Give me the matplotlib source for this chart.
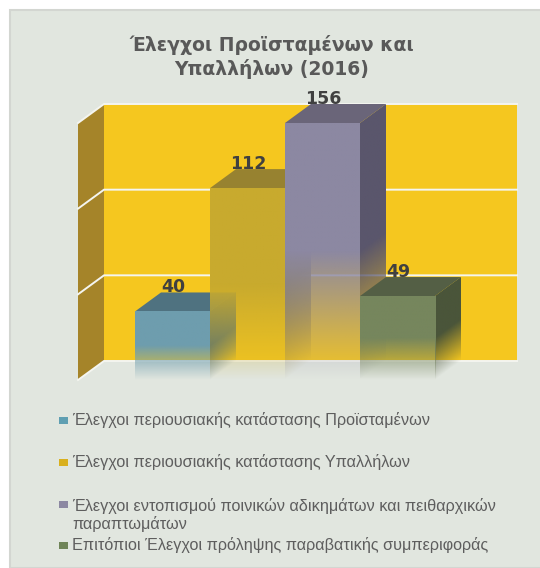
import numpy as np
import matplotlib
matplotlib.use("Agg")
import matplotlib.pyplot as plt
from matplotlib.patches import Rectangle
from matplotlib.transforms import Affine2D

title = "Έλεγχοι Προϊσταμένων και\nΥπαλλήλων (2016)"
values = [40, 112, 156, 49]
grid_ticks = [0, 50, 100, 150]
front_colors = ["#6E9DAE", "#C8AA2E", "#8C88A2", "#76865D"]
side_colors = ["#4B6C7A", "#8F7A26", "#5A566C", "#4A553A"]
top_colors = ["#4F7280", "#978230", "#6A6579", "#545F45"]
swatch_colors = ["#5F9FB2", "#D9B01E", "#8C88A2", "#6F8458"]
legend_rows = [
    ("Έλεγχοι περιουσιακής κατάστασης Προϊσταμένων", 420),
    ("Έλεγχοι περιουσιακής κατάστασης Υπαλλήλων", 462),
    ("Έλεγχοι εντοπισμού ποινικών αδικημάτων και πειθαρχικών\nπαραπτωμάτων", 515),
    ("Επιτόπιοι Έλεγχοι πρόληψης παραβατικής συμπεριφοράς", 545),
]

W, H = 540, 568
PANEL = "#E1E6DF"
WALL = "#F5C71F"
SIDE_WALL = "#A58429"

# pixels per data unit, depth of the fake 3d
px_x = 75.0
px_y = 257 / 150
depth_x = 26 / px_x
depth_y = 19 / px_y
ymax = grid_ticks[-1]


def fade_face(ax, x0, x1, h, skew_y, color, zorder):
    # face that is solid in its upper half and fades out to the floor
    rows = np.linspace(0, 1, 200)
    C = np.zeros((len(rows), 2, 4))
    C[:, :, :3] = matplotlib.colors.to_rgb(color)
    C[:, :, 3] = np.clip(rows * 2, 0, 1)[:, None]
    slope = skew_y / (x1 - x0)
    shear = Affine2D(np.array([[1, 0, 0], [slope, 1, -slope * x0], [0, 0, 1]]))
    ax.imshow(C, extent=(x0, x1, 0, h), origin="lower", aspect="auto", zorder=zorder,
              interpolation="bilinear", transform=shear + ax.transData)


fig = plt.figure(figsize=(W / 100, H / 100), dpi=100, facecolor="white")
fig.add_artist(Rectangle((10 / W, 0), 1, 1 - 10 / H, transform=fig.transFigure,
                         facecolor=PANEL, edgecolor="#D3D6D1", linewidth=1.5, zorder=-5))

ax = fig.add_axes([78 / W, (H - 380) / H, (517 - 78) / W, (380 - 104) / H])
ax.patch.set_visible(False)
ax.axis("off")

x_left = 1.5 - 207 / px_x
x_right = 1.5 + 206 / px_x

# walls
ax.fill([x_left + depth_x, x_right + depth_x, x_right + depth_x, x_left + depth_x],
        [depth_y, depth_y, ymax + depth_y, ymax + depth_y], color=WALL, lw=0, zorder=1)
ax.fill([x_left, x_left + depth_x, x_left + depth_x, x_left],
        [0, depth_y, ymax + depth_y, ymax], color=SIDE_WALL, lw=0, zorder=1)
for t in grid_ticks:
    ax.plot([x_left, x_left + depth_x, x_right + depth_x], [t, t + depth_y, t + depth_y],
            color="#F4F5F0", lw=1.4, zorder=2, solid_joinstyle="miter", clip_on=False)

# bars, left to right so each one lies over the side of the one before
for i, v in enumerate(values):
    h = min(v, ymax)
    x0, x1 = i - 0.5, i + 0.5
    z = 3 + i
    fade_face(ax, x1, x1 + depth_x, h, depth_y, side_colors[i], z)
    ax.fill([x0, x1, x1 + depth_x, x0 + depth_x], [h, h, h + depth_y, h + depth_y],
            color=top_colors[i], lw=0, zorder=z)
    fade_face(ax, x0, x1, h, 0, front_colors[i], z + 0.5)
    ax.text(i + 0.01, h + depth_y + 3, str(v), ha="center", va="center", fontsize=12.5,
            fontweight="bold", color="#404040", zorder=10)

ax.set_xlim(x_left, x_right + depth_x)
ax.set_ylim(0, ymax + depth_y)

fig.text(272 / W, 1 - 57 / H, title, ha="center", va="center", fontsize=13.5,
         fontweight="bold", color="#595959", family="DejaVu Sans", linespacing=1.2)

# legend
for (label, y), c in zip(legend_rows, swatch_colors):
    n_lines = label.count("\n") + 1
    first = y - (n_lines - 1) * 11
    fig.add_artist(Rectangle((59 / W, 1 - (first + 4) / H), 9 / W, 7 / H,
                             transform=fig.transFigure, facecolor=c, edgecolor="none"))
    fig.text(72 / W, 1 - y / H, label, ha="left", va="center", fontsize=11.7,
             color="#5E5E5E", family="Liberation Sans", linespacing=1.1)

fig.savefig("out.png", dpi=100, facecolor="white")
